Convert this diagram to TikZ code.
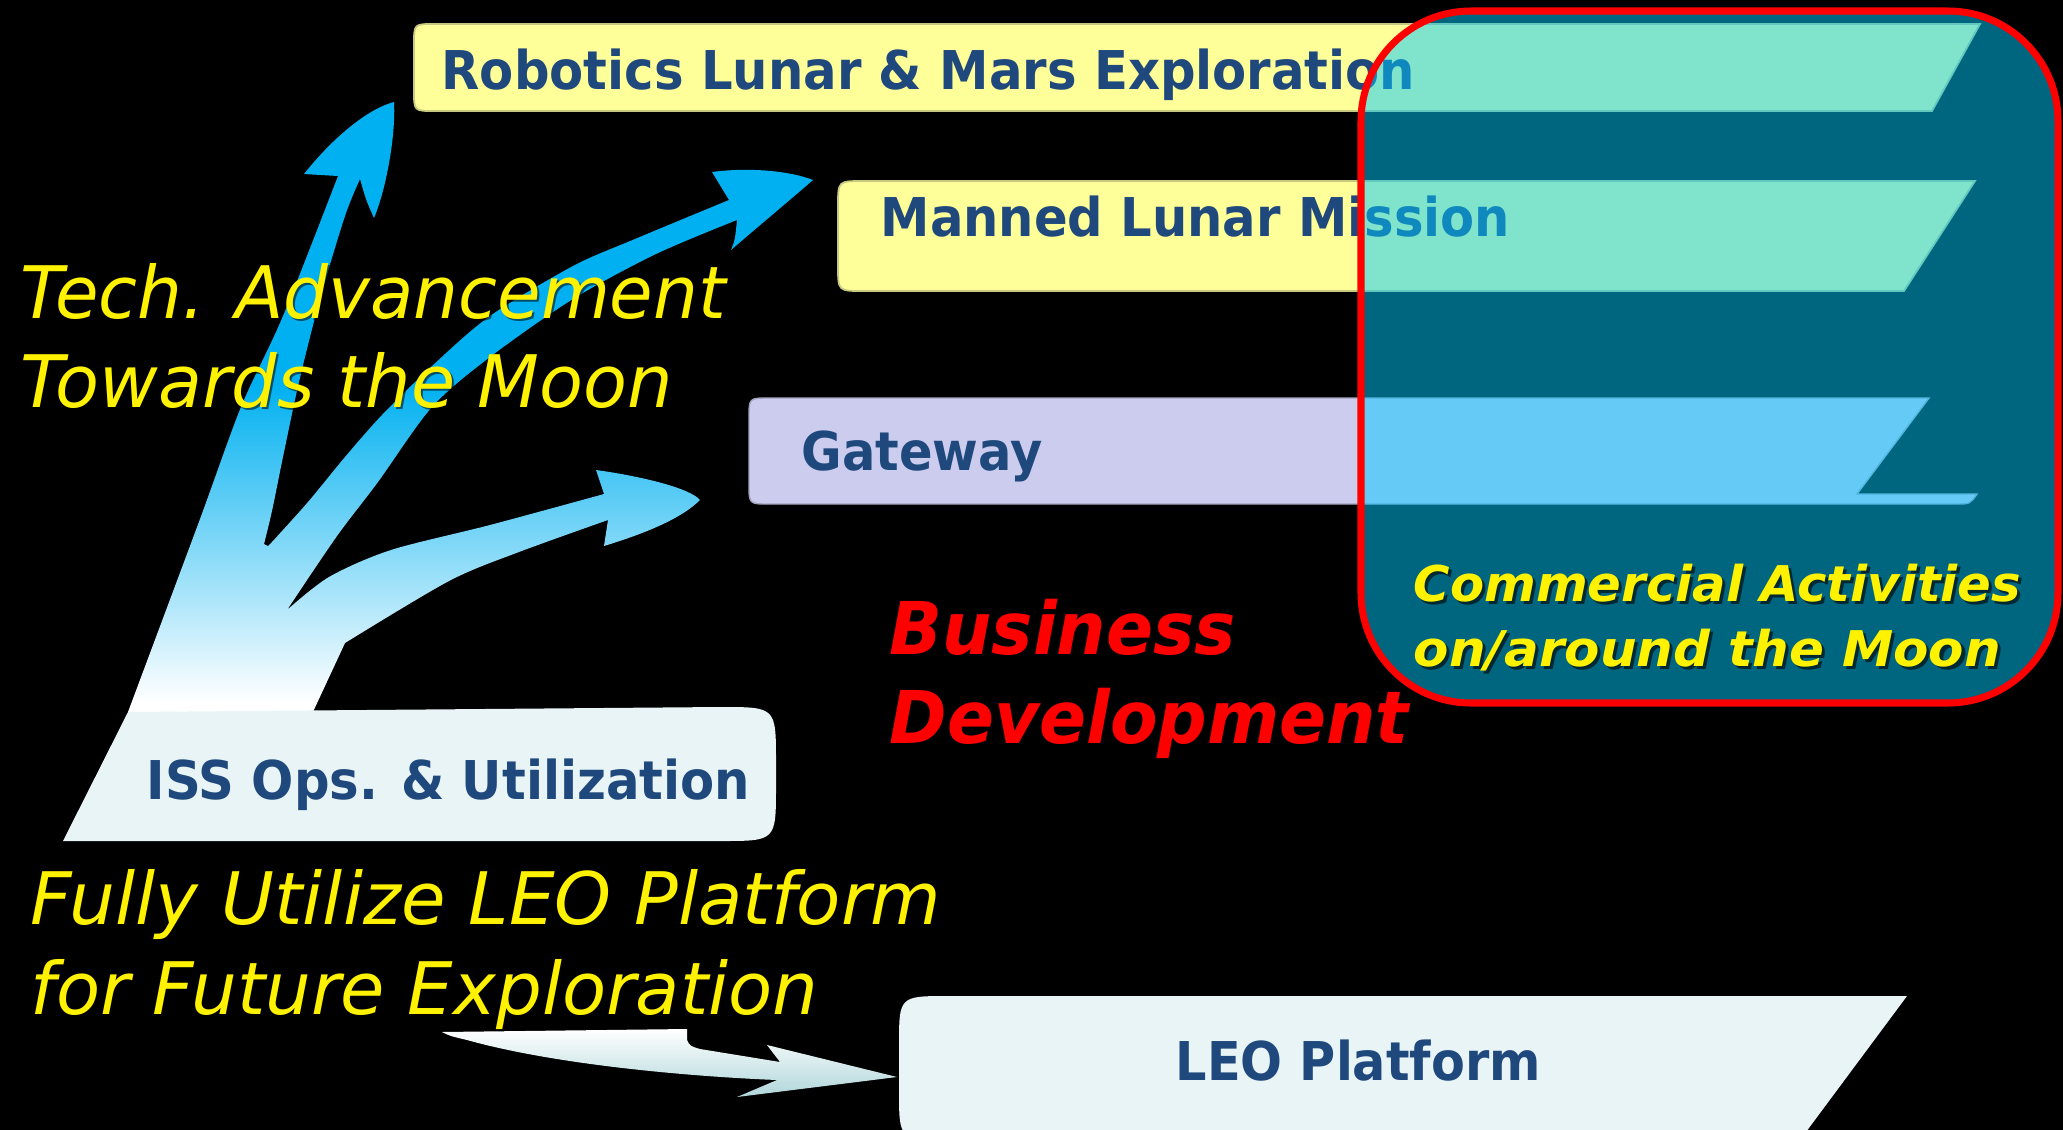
\documentclass[tikz,border=0pt]{standalone}
\usepackage{fontspec}
\setmainfont{DejaVu Sans}
\usepackage{graphicx}
\definecolor{ybox}{HTML}{FFFF99}
\definecolor{yedge}{HTML}{C8C880}
\definecolor{lav}{HTML}{CCCCEE}
\definecolor{dblue}{HTML}{1F497D}
\definecolor{pale}{HTML}{E8F4F5}
\definecolor{arrowblue}{HTML}{00B0F0}
\definecolor{leoshade}{HTML}{B0D6DA}
\definecolor{overlaycol}{RGB}{0,202,254}
\pgfdeclareverticalshading{arrowshade}{100bp}{color(0bp)=(white); color(26bp)=(white); color(52bp)=(arrowblue); color(100bp)=(arrowblue)}
\tikzset{
  lbl/.style={inner sep=0pt, anchor=base west, text=dblue, font=\bfseries\fontsize{15.2}{18}\selectfont},
  ylbl/.style={inner sep=0pt, anchor=base west, text=yellow, font=\itshape\fontsize{20.6}{24}\selectfont},
  ysh/.style={inner sep=0pt, anchor=base west, text=black, text opacity=0.55, font=\itshape\fontsize{20.6}{24}\selectfont},
  rlbl/.style={inner sep=0pt, anchor=base west, text=red, font=\bfseries\itshape\fontsize{20.7}{24}\selectfont},
  clbl/.style={inner sep=0pt, anchor=base west, text=yellow, font=\bfseries\itshape\fontsize{14}{16}\selectfont},
  csh/.style={inner sep=0pt, anchor=base west, text=black, text opacity=0.6, font=\bfseries\itshape\fontsize{14}{16}\selectfont},
  yboxstyle/.style={fill=ybox, draw=yedge, line width=0.5pt},
  lavstyle/.style={fill=lav, draw=lav!80!black, line width=0.4pt},
  palestyle/.style={fill=pale}
}
\begin{document}
\begin{tikzpicture}[x=0.01cm, y=-0.01cm]
\fill[black] (0,0) rectangle (2063,1130);
\useasboundingbox (0,0) rectangle (2063,1130);

% branching gradient arrow
\shade[shading=arrowshade] (128,712)
  -- plot[smooth] coordinates {(128,712) (200,519) (241,407) (283,316) (338,176)}
  -- (304,174)
  .. controls (335,135) and (370,108) .. (394,102)
  .. controls (396,135) and (386,190) .. (374,218)
  .. controls (366,200) .. (360,179)
  -- plot[smooth] coordinates {(360,179) (345,216) (320,299) (299,382) (283,457) (272,511) (264,544)}
  -- (268,546)
  -- plot[smooth] coordinates {(272,542) (308,502) (345,457) (382,415) (432,366) (490,316) (573,266) (635,239) (729,200)}
  -- (712,172)
  .. controls (750,167) and (790,171) .. (813,180)
  .. controls (790,200) and (760,225) .. (731,250)
  .. controls (735,240) .. (737,220)
  -- plot[smooth] coordinates {(737,220) (656,254) (573,299) (490,357) (432,407) (378,482) (337,536) (287,610)}
  -- plot[smooth] coordinates {(287,610) (329,577) (391,550) (490,525) (604,494)}
  -- (596,470)
  .. controls (640,476) and (690,488) .. (700,500)
  .. controls (680,520) and (640,535) .. (604,546)
  -- (608,520)
  -- plot[smooth] coordinates {(608,520) (519,552) (449,581) (345,643)}
  -- (312,714) -- cycle;

% LEO arrow
\shade[top color=white, bottom color=leoshade] (442,1032) -- (687,1029) -- (687,1040)
  .. controls (690,1046) .. (700,1049) -- (780,1062) -- (767,1045) -- (897,1077)
  -- (737,1097) -- (777,1080)
  .. controls (700,1077) and (560,1066) .. (467,1040)
  .. controls (450,1036) .. (442,1032) -- cycle;

% boxes
\filldraw[yboxstyle] (1980,24) -- (1932,111) -- (434,111) .. controls (414,111) .. (414,91)
  -- (414,44) .. controls (414,24) .. (434,24) -- cycle;
\filldraw[yboxstyle] (1975,181) -- (1904,291) -- (863,291) .. controls (838,291) .. (838,266)
  -- (838,206) .. controls (838,181) .. (863,181) -- cycle;
\filldraw[lavstyle] (1929,398) -- (1857,494) -- (1977,494) .. controls (1970,504) .. (1955,504)
  -- (769,504) .. controls (749,504) .. (749,484) -- (749,418) .. controls (749,398) .. (769,398) -- cycle;
\fill[palestyle] (63,841) -- (128,712) -- (721,707) .. controls (776,707) .. (776,762)
  -- (776,786) .. controls (776,841) .. (721,841) -- cycle;
\fill[palestyle] (1907,996) -- (1800,1140) -- (949,1140) .. controls (899,1140) .. (899,1090)
  -- (899,1046) .. controls (899,996) .. (949,996) -- cycle;

% box labels
\node[lbl] (rob) at (441,89.3) {\resizebox{9.73cm}{\height}{Robotics Lunar \& Mars Exploration}};
\node[lbl] (man) at (880,236) {\resizebox{6.29cm}{\height}{Manned Lunar Mission}};
\node[lbl] (gw) at (801,470.7) {\resizebox{2.41cm}{\height}{Gateway}};
\node[lbl] (iss) at (146,799.3) {\resizebox{6.03cm}{\height}{ISS Ops. \& Utilization}};
\node[lbl] (leo) at (1175,1080.6) {\resizebox{3.65cm}{\height}{LEO Platform}};

% yellow captions
\node[ysh] (tech-s) at (22,320) {\resizebox{7.05cm}{\height}{Tech. Advancement}};
\node[ylbl] (tech) at (20,318) {\resizebox{7.05cm}{\height}{Tech. Advancement}};
\node[ysh] (tow-s) at (22,409) {\resizebox{6.52cm}{\height}{Towards the Moon}};
\node[ylbl] (tow) at (20,407) {\resizebox{6.52cm}{\height}{Towards the Moon}};
\node[ysh] (ful-s) at (32,926) {\resizebox{9.1cm}{\height}{Fully Utilize LEO Platform}};
\node[ylbl] (ful) at (30,924) {\resizebox{9.1cm}{\height}{Fully Utilize LEO Platform}};
\node[ysh] (fut-s) at (32,1016) {\resizebox{7.87cm}{\height}{for Future Exploration}};
\node[ylbl] (fut) at (30,1014) {\resizebox{7.87cm}{\height}{for Future Exploration}};

% commercial region
\fill[overlaycol, opacity=0.5, rounded corners=1.1cm] (1361,11) rectangle (2058,703);
\draw[red, line width=2pt, rounded corners=1.1cm] (1361,11) rectangle (2058,703);

\node[csh] (com-s) at (1416,604) {\resizebox{6.07cm}{\height}{Commercial Activities}};
\node[clbl] (com) at (1413,601) {\resizebox{6.07cm}{\height}{Commercial Activities}};
\node[csh] (on-s) at (1416,669) {\resizebox{5.87cm}{\height}{on/around the Moon}};
\node[clbl] (on) at (1413,666) {\resizebox{5.87cm}{\height}{on/around the Moon}};

% business
\node[rlbl] (bus) at (889,654.7) {\resizebox{3.46cm}{\height}{Business}};
\node[rlbl] (dev) at (889,743) {\resizebox{5.19cm}{\height}{Development}};
\end{tikzpicture}
\end{document}
